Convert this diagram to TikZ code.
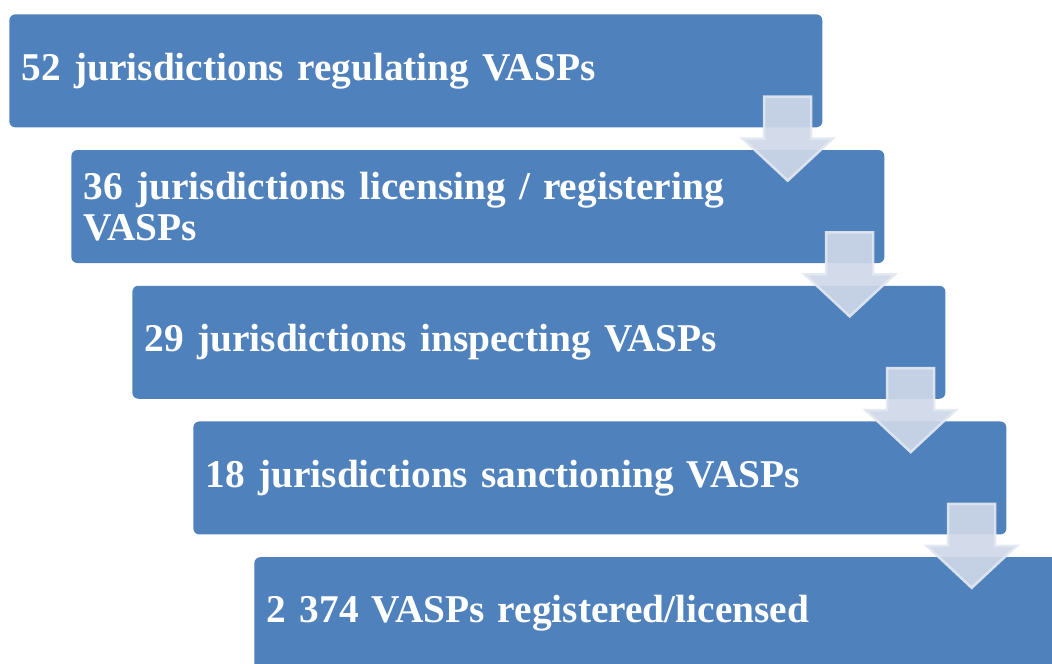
\documentclass[tikz,border=0pt]{standalone}
\usepackage{fontspec}
\setmainfont{Liberation Serif}
\usetikzlibrary{positioning,calc}
\definecolor{boxblue}{HTML}{4F81BD}
\definecolor{arrowfill}{HTML}{CFD8E8}
\definecolor{arrowline}{HTML}{E2E7F1}
\tikzstyle{stage} = [rectangle, fill=boxblue, text=white, font=\fontsize{22.4}{23}\selectfont\bfseries,
    text width=15.76cm, align=left, inner sep=0.25cm, minimum width=16.26cm, minimum height=2.26cm,
    rounded corners=0.12cm]
\tikzstyle{flow} = [fill=arrowfill, draw=arrowline, line width=0.05cm, opacity=0.92]
\begin{document}
\begin{tikzpicture}[node distance = 0.44cm]
      \useasboundingbox (0,0) rectangle (21.04,13.28);
      \clip (0,0) rectangle (21.04,13.28);
      % Stages
      \node [stage, anchor=north west] (regulating) at (0.18,13.0) {52 jurisdictions regulating VASPs};
      \node [stage, below= of regulating, xshift=1.24cm] (licensing) {36 jurisdictions licensing / registering\\VASPs};
      \node [stage, below= of licensing, xshift=1.22cm] (inspecting) {29 jurisdictions inspecting VASPs};
      \node [stage, below= of inspecting, xshift=1.22cm] (sanctioning) {18 jurisdictions sanctioning VASPs};
      \node [stage, below= of sanctioning, xshift=1.22cm] (registered) {2 374 VASPs registered/licensed};
      % Draw arrows
      \foreach \from/\to in {regulating/licensing, licensing/inspecting, inspecting/sanctioning, sanctioning/registered} {
        \coordinate (mid) at ($(\from.south east)+(-0.7,-0.22)$);
        \path [flow, shift={(mid)}] (-0.47,0.84) -- (0.47,0.84) -- (0.47,0) -- (0.9,0) -- (0,-0.84)
          -- (-0.9,0) -- (-0.47,0) -- cycle;
      }
\end{tikzpicture}
\end{document}
